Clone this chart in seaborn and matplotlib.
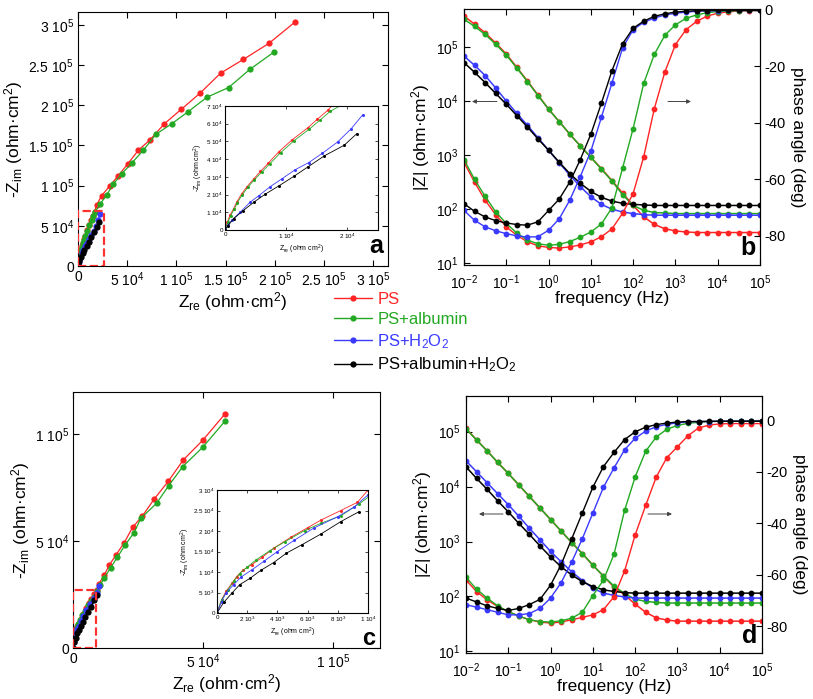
import numpy as np
import pandas as pd
import matplotlib
matplotlib.use("Agg")
import matplotlib.pyplot as plt
import matplotlib.ticker as mticker
from matplotlib.lines import Line2D
from matplotlib.patches import Rectangle
import seaborn as sns

sns.set_theme(style="ticks", rc={"axes.edgecolor": "black", "xtick.color": "black", "ytick.color": "black",
                                 "axes.labelcolor": "black", "text.color": "black"})
plt.rcParams["font.family"] = ["Liberation Sans", "DejaVu Sans"]
plt.rcParams["mathtext.fontset"] = "custom"
plt.rcParams["mathtext.rm"] = "Liberation Sans"
plt.rcParams["mathtext.it"] = "Liberation Sans:italic"
plt.rcParams["mathtext.bf"] = "Liberation Sans:bold"
plt.rcParams["axes.unicode_minus"] = False
plt.rcParams["xtick.direction"] = "in"
plt.rcParams["ytick.direction"] = "in"

# ---------------- data ----------------
samples = ["PS", "PS+albumin", "PS+H2O2", "PS+albumin+H2O2"]
legend_labels = ["PS", "PS+albumin", "PS+H$_2$O$_2$", "PS+albumin+H$_2$O$_2$"]
colors = ["#ff2424", "#22a822", "#3a3aff", "#000000"]

# Panel a: Nyquist (Zre, -Zim) in ohm cm2
a_zre_PS = [0, 0.04e4, 0.08e4, 0.14e4, 0.19e4, 0.27e4, 0.36e4, 0.47e4, 0.58e4, 0.71e4, 0.88e4, 1.10e4, 1.35e4, 1.51e4, 1.68e4,
            1.9e4, 2.4e4, 3.25e4, 4.1e4, 5.05e4, 6.13e4, 7.32e4, 8.78e4, 10.5e4, 12.4e4, 14.5e4, 16.8e4, 19.4e4, 22.1e4]
a_zim_PS = [0, 0.46e4, 0.83e4, 1.2e4, 1.57e4, 2.03e4, 2.45e4, 2.89e4, 3.31e4, 3.78e4, 4.42e4, 5.1e4, 5.76e4, 6.26e4, 6.76e4,
            7.6e4, 8.75e4, 10.0e4, 11.25e4, 12.7e4, 14.4e4, 15.7e4, 17.7e4, 19.5e4, 21.5e4, 24.0e4, 25.7e4, 27.7e4, 30.4e4]
a_zre_alb = [0, 0.05e4, 0.09e4, 0.15e4, 0.2e4, 0.28e4, 0.37e4, 0.48e4, 0.6e4, 0.73e4, 0.91e4, 1.13e4, 1.38e4, 1.55e4,
             1.72e4, 2.24e4, 2.92e4, 3.59e4, 4.44e4, 5.46e4, 6.64e4, 7.93e4, 9.53e4, 11.2e4, 13.1e4, 15.3e4, 17.5e4, 19.9e4]
a_zim_alb = [0, 0.44e4, 0.8e4, 1.17e4, 1.53e4, 1.98e4, 2.4e4, 2.84e4, 3.27e4, 3.73e4, 4.37e4, 5.05e4, 5.7e4, 6.2e4,
             6.7e4, 7.7e4, 8.84e4, 10.2e4, 11.46e4, 12.8e4, 14.4e4, 16.4e4, 17.7e4, 19.2e4, 21.0e4, 22.2e4, 24.5e4, 26.6e4]
a_zre_H2O2 = [0, 0.05e4, 0.11e4, 0.25e4, 0.41e4, 0.55e4, 0.74e4, 0.93e4, 1.15e4, 1.37e4, 1.59e4, 1.84e4, 2.06e4, 2.25e4]
a_zim_H2O2 = [0, 0.27e4, 0.55e4, 1.01e4, 1.57e4, 1.93e4, 2.45e4, 2.89e4, 3.41e4, 3.81e4, 4.33e4, 4.97e4, 5.71e4, 6.5e4]
a_zre_albH2O2 = [0, 0.05e4, 0.14e4, 0.3e4, 0.47e4, 0.66e4, 0.88e4, 1.13e4, 1.35e4, 1.62e4, 1.95e4, 2.15e4]
a_zim_albH2O2 = [0, 0.25e4, 0.64e4, 1.1e4, 1.57e4, 2.03e4, 2.49e4, 3.04e4, 3.55e4, 4.18e4, 4.79e4, 5.43e4]

# Panel c: Nyquist
c_zre_PS = [0, 0.03e4, 0.06e4, 0.1e4, 0.13e4, 0.17e4, 0.23e4, 0.3e4, 0.375e4, 0.49e4, 0.6e4, 0.69e4, 0.82e4, 0.93e4,
            1.0e4, 1.2e4, 1.39e4, 1.65e4, 1.97e4, 2.29e4, 2.67e4, 3.12e4, 3.66e4, 4.24e4, 4.99e4, 5.85e4]
c_zim_PS = [0, 0.32e4, 0.53e4, 0.73e4, 0.89e4, 1.04e4, 1.18e4, 1.36e4, 1.58e4, 1.85e4, 2.08e4, 2.27e4, 2.5e4, 2.7e4,
            3.0e4, 3.4e4, 3.86e4, 4.34e4, 4.92e4, 5.63e4, 6.17e4, 6.95e4, 7.78e4, 8.78e4, 9.7e4, 10.94e4]
c_zre_alb = [0, 0.03e4, 0.07e4, 0.11e4, 0.15e4, 0.2e4, 0.26e4, 0.35e4, 0.45e4, 0.58e4, 0.69e4, 0.82e4, 0.94e4,
             1.05e4, 1.2e4, 1.45e4, 1.71e4, 2.0e4, 2.35e4, 2.61e4, 3.21e4, 3.68e4, 4.22e4, 4.99e4, 5.85e4]
c_zim_alb = [0, 0.32e4, 0.55e4, 0.77e4, 0.96e4, 1.12e4, 1.3e4, 1.52e4, 1.74e4, 2.01e4, 2.19e4, 2.37e4, 2.66e4,
             2.95e4, 3.28e4, 3.75e4, 4.25e4, 4.8e4, 5.39e4, 6.06e4, 6.75e4, 7.58e4, 8.47e4, 9.375e4, 10.6e4]
c_zre_H2O2 = [0, 0.03e4, 0.06e4, 0.11e4, 0.16e4, 0.23e4, 0.31e4, 0.4e4, 0.51e4, 0.64e4, 0.8e4, 0.91e4, 1.0e4]
c_zim_H2O2 = [0, 0.28e4, 0.49e4, 0.69e4, 0.88e4, 1.05e4, 1.26e4, 1.5e4, 1.77e4, 2.07e4, 2.35e4, 2.59e4, 2.88e4]
c_zre_albH2O2 = [0, 0.045e4, 0.1e4, 0.15e4, 0.22e4, 0.29e4, 0.375e4, 0.46e4, 0.56e4, 0.69e4, 0.82e4, 0.94e4]
c_zim_albH2O2 = [0, 0.26e4, 0.49e4, 0.69e4, 0.85e4, 1.04e4, 1.23e4, 1.46e4, 1.66e4, 1.93e4, 2.23e4, 2.47e4]

# Bode data: log10(frequency / Hz)
freq_exp = [-2.0, -1.75, -1.5, -1.25, -1.0, -0.75, -0.5, -0.25, 0.0, 0.25, 0.5, 0.75, 1.0, 1.25, 1.5,
            1.75, 2.0, 2.25, 2.5, 2.75, 3.0, 3.25, 3.5, 3.75, 4.0, 4.25, 4.5, 4.75, 5.0]

# Panel b: log10|Z| and phase (deg)
b_logZ_PS = [5.57, 5.42, 5.26, 5.07, 4.87, 4.62, 4.37, 4.11, 3.85, 3.62, 3.39, 3.17, 2.96, 2.75, 2.53,
             2.30, 2.07, 1.86, 1.72, 1.64, 1.60, 1.58, 1.57, 1.57, 1.57, 1.57, 1.57, 1.57, 1.57]
b_logZ_alb = [5.51, 5.38, 5.23, 5.05, 4.85, 4.61, 4.36, 4.10, 3.85, 3.62, 3.39, 3.17, 2.96, 2.74, 2.52,
              2.27, 2.07, 1.98, 1.94, 1.93, 1.92, 1.92, 1.92, 1.92, 1.92, 1.92, 1.92, 1.92, 1.92]
b_logZ_H2O2 = [4.83, 4.66, 4.47, 4.24, 4.00, 3.77, 3.55, 3.32, 3.09, 2.86, 2.63, 2.42, 2.23, 2.09, 2.00,
               1.95, 1.92, 1.90, 1.89, 1.89, 1.89, 1.89, 1.89, 1.89, 1.89, 1.89, 1.89, 1.89, 1.89]
b_logZ_albH2O2 = [4.71, 4.53, 4.34, 4.14, 3.94, 3.73, 3.52, 3.30, 3.09, 2.87, 2.66, 2.48, 2.33, 2.22, 2.15,
                  2.11, 2.09, 2.08, 2.07, 2.07, 2.07, 2.07, 2.07, 2.07, 2.07, 2.07, 2.07, 2.07, 2.07]
b_ph_PS = [-54, -61, -67.4, -72.5, -76.8, -79.8, -82.1, -83.5, -84.1, -84.3, -83.9, -83.2, -82.1, -80.3, -77.5,
           -72, -65, -52, -35, -22, -12.3, -7, -4.1, -2.2, -1.2, -0.7, -0.4, -0.3, -0.2]
b_ph_alb = [-53, -60, -66, -71.5, -75.6, -79, -81.5, -82.8, -83.3, -83.0, -82, -80.5, -78.6, -75.8, -70,
            -56, -42, -26, -15.8, -9, -5.3, -3, -1.8, -1, -0.6, -0.4, -0.3, -0.2, -0.2]
b_ph_H2O2 = [-71, -74.5, -76.8, -78.2, -79.2, -80, -80.4, -80.3, -78, -74, -67.4, -59, -50, -38, -25.8,
             -13.5, -7, -4.4, -2.9, -1.8, -1.2, -0.8, -0.5, -0.3, -0.3, -0.2, -0.2, -0.2, -0.2]
b_ph_albH2O2 = [-68.6, -71.3, -73.3, -74.6, -75.4, -76.0, -76.2, -75.0, -71, -67, -61, -53, -44, -33, -21.5,
                -12, -6.5, -4, -2.3, -1.4, -0.8, -0.5, -0.3, -0.3, -0.2, -0.2, -0.2, -0.2, -0.2]

# Panel d
d_logZ_PS = [5.06, 4.85, 4.65, 4.44, 4.24, 4.03, 3.82, 3.61, 3.40, 3.19, 2.98, 2.78, 2.57, 2.37, 2.17,
             2.03, 1.86, 1.71, 1.61, 1.57, 1.55, 1.55, 1.55, 1.55, 1.55, 1.55, 1.55, 1.55, 1.55]
d_logZ_alb = [5.05, 4.85, 4.65, 4.44, 4.24, 4.03, 3.82, 3.61, 3.40, 3.19, 2.98, 2.78, 2.57, 2.37, 2.19,
              2.05, 1.95, 1.91, 1.89, 1.88, 1.88, 1.88, 1.88, 1.88, 1.88, 1.88, 1.88, 1.88, 1.88]
d_logZ_H2O2 = [4.47, 4.27, 4.07, 3.87, 3.67, 3.46, 3.24, 3.03, 2.82, 2.63, 2.45, 2.29, 2.15, 2.06, 2.02,
               1.99, 1.97, 1.97, 1.97, 1.97, 1.97, 1.97, 1.97, 1.97, 1.97, 1.97, 1.97, 1.97, 1.97]
d_logZ_albH2O2 = [4.36, 4.15, 3.95, 3.74, 3.54, 3.33, 3.13, 2.92, 2.72, 2.54, 2.39, 2.27, 2.18, 2.12, 2.09,
                  2.07, 2.06, 2.06, 2.06, 2.06, 2.06, 2.06, 2.06, 2.06, 2.06, 2.06, 2.06, 2.06, 2.06]
d_ph_PS = [-62, -66.5, -69.7, -72.3, -74.2, -76, -77.4, -78.3, -78.7, -78.3, -77.4, -76.5, -75.5, -73.5, -68.5,
           -58.5, -44.5, -33, -22, -14.5, -10.3, -6, -3, -1.9, -1.4, -1.3, -1.3, -1.3, -1.3]
d_ph_alb = [-61, -65.5, -69, -72, -74.2, -76, -77.4, -78.1, -78.3, -77.8, -76.8, -74.5, -68, -62, -52,
            -35, -22, -12, -6.5, -3.5, -2, -1.2, -0.8, -0.5, -0.4, -0.3, -0.3, -0.3, -0.3]
d_ph_H2O2 = [-71.6, -72.5, -73.5, -74.5, -75.5, -75.5, -75, -73, -69, -63, -55, -46, -36, -26, -18.5,
             -11.5, -7, -4.2, -2.5, -1.6, -1.0, -0.6, -0.5, -0.5, -0.4, -0.4, -0.4, -0.4, -0.4]
d_ph_albH2O2 = [-69, -70.5, -72, -73, -73.8, -73, -71.5, -69.5, -64, -56, -46, -36, -26, -18, -12.5,
                -7.5, -4.5, -2.7, -1.7, -1.1, -0.7, -0.5, -0.5, -0.4, -0.4, -0.4, -0.4, -0.4, -0.4]

a_ticks = [0, 5e4, 1e5, 1.5e5, 2e5, 2.5e5, 3e5]
a_inset_yticks = [0, 1e4, 2e4, 3e4, 4e4, 5e4, 6e4, 7e4]
a_inset_xticks = [0, 1e4, 2e4]
c_ticks = [0, 5e4, 1e5]
c_inset_yticks = [0, 5e3, 1e4, 1.5e4, 2e4, 2.5e4, 3e4]
c_inset_xticks = [0, 2e3, 4e3, 6e3, 8e3, 1e4]
bode_xticks = [1e-2, 1e-1, 1e0, 1e1, 1e2, 1e3, 1e4, 1e5]
bode_yticks = [1e1, 1e2, 1e3, 1e4, 1e5]
phase_ticks = [0, -20, -40, -60, -80]

palette = dict(zip(samples, colors))

# ---------------- helpers ----------------
def nyq_df(xs, ys):
    frames = []
    for s, x, y in zip(samples, xs, ys):
        frames.append(pd.DataFrame({"zre": x, "zim": y, "sample": s}))
    return pd.concat(frames, ignore_index=True)


def bode_df(logz, ph):
    frames = []
    for s, lz, p in zip(samples, logz, ph):
        frames.append(pd.DataFrame({"f": np.power(10.0, freq_exp), "Z": np.power(10.0, lz),
                                    "phase": p, "sample": s}))
    return pd.concat(frames, ignore_index=True)


def sci_fmt(v, pos=None):
    if v == 0:
        return "0"
    e = int(np.floor(np.log10(abs(v)) + 1e-9))
    m = v / 10 ** e
    ms = ("%.1f" % m).rstrip("0").rstrip(".")
    return ms + " $10^{%d}$" % e


def nyq_plot(ax, df, ms, lw):
    sns.lineplot(data=df, x="zre", y="zim", hue="sample", hue_order=samples, palette=palette,
                 marker="o", markersize=ms, markeredgewidth=0, linewidth=lw, sort=False,
                 estimator=None, legend=False, ax=ax)
    ax.set_xlabel("")
    ax.set_ylabel("")


def style_box(ax, lw=0.8):
    for sp in ax.spines.values():
        sp.set_visible(True)
        sp.set_linewidth(lw)
        sp.set_color("black")


W, H = 813, 699
fig = plt.figure(figsize=(W / 100, H / 100), dpi=100)


def rect(l, t, r, b):
    return [l / W, 1 - b / H, (r - l) / W, (b - t) / H]


# ---------------- panel a ----------------
dfa = nyq_df([a_zre_PS, a_zre_alb, a_zre_H2O2, a_zre_albH2O2],
             [a_zim_PS, a_zim_alb, a_zim_H2O2, a_zim_albH2O2])
axa = fig.add_axes(rect(78, 12, 388, 266))
nyq_plot(axa, dfa, 4.5, 0.9)
axa.set_xlim(0, 3.15e5)
axa.set_ylim(0, 3.16e5)
axa.set_xticks(a_ticks)
axa.set_yticks(a_ticks)
axa.xaxis.set_major_formatter(mticker.FuncFormatter(sci_fmt))
axa.yaxis.set_major_formatter(mticker.FuncFormatter(sci_fmt))
axa.tick_params(top=True, right=True, labelsize=10, length=4, width=0.8, pad=3)
style_box(axa)
axa.set_xlabel("Z$_{\\rm re}$ (ohm·cm$^2$)", fontsize=12.5, labelpad=1)
axa.set_ylabel("-Z$_{\\rm im}$ (ohm·cm$^2$)", fontsize=12.5, labelpad=2)
axa.add_patch(Rectangle((0, 0), 2.6e4, 6.9e4, fill=False, ls="--", ec="#ff3030", lw=1.6, zorder=5))
axa.text(0.985, 0.03, "a", transform=axa.transAxes, ha="right", va="bottom",
         fontsize=18, fontweight="bold")

axai = fig.add_axes(rect(225, 106, 378, 230))
axai.set_facecolor("white")
nyq_plot(axai, dfa, 2.2, 0.6)
axai.set_xlim(0, 2.5e4)
axai.set_ylim(0, 7e4)
axai.set_xticks(a_inset_xticks)
axai.set_yticks(a_inset_yticks)
axai.xaxis.set_major_formatter(mticker.FuncFormatter(sci_fmt))
axai.yaxis.set_major_formatter(mticker.FuncFormatter(sci_fmt))
axai.tick_params(top=True, right=True, labelsize=4.5, length=2, width=0.5, pad=1.5)
style_box(axai, 0.8)
axai.set_xlabel("Z$_{\\rm re}$ (ohm cm$^2$)", fontsize=5, labelpad=1)
axai.set_ylabel("-Z$_{\\rm im}$ (ohm cm$^2$)", fontsize=5, labelpad=1)

# ---------------- panel c ----------------
dfc = nyq_df([c_zre_PS, c_zre_alb, c_zre_H2O2, c_zre_albH2O2],
             [c_zim_PS, c_zim_alb, c_zim_H2O2, c_zim_albH2O2])
axc = fig.add_axes(rect(73, 392, 380, 648))
nyq_plot(axc, dfc, 4.5, 0.9)
axc.set_xlim(0, 1.18e5)
axc.set_ylim(0, 1.195e5)
axc.set_xticks(c_ticks)
axc.set_yticks(c_ticks)
axc.xaxis.set_major_formatter(mticker.FuncFormatter(sci_fmt))
axc.yaxis.set_major_formatter(mticker.FuncFormatter(sci_fmt))
axc.tick_params(top=True, right=True, labelsize=10, length=4, width=0.8, pad=3)
style_box(axc)
axc.set_xlabel("Z$_{\\rm re}$ (ohm·cm$^2$)", fontsize=12.5, labelpad=1)
axc.set_ylabel("-Z$_{\\rm im}$ (ohm·cm$^2$)", fontsize=12.5, labelpad=2)
axc.add_patch(Rectangle((0, 0), 0.9e4, 2.7e4, fill=False, ls="--", ec="#ff3030", lw=1.6, zorder=5))
axc.text(0.985, 0.012, "c", transform=axc.transAxes, ha="right", va="baseline",
         fontsize=17, fontweight="bold")

axci = fig.add_axes(rect(217, 490, 368, 613))
axci.set_facecolor("white")
nyq_plot(axci, dfc, 2.2, 0.6)
axci.set_xlim(0, 1e4)
axci.set_ylim(0, 3e4)
axci.set_xticks(c_inset_xticks)
axci.set_yticks(c_inset_yticks)
axci.xaxis.set_major_formatter(mticker.FuncFormatter(sci_fmt))
axci.yaxis.set_major_formatter(mticker.FuncFormatter(sci_fmt))
axci.tick_params(top=True, right=True, labelsize=4.5, length=2, width=0.5, pad=1.5)
style_box(axci, 0.8)
axci.set_xlabel("Z$_{\\rm re}$ (ohm cm$^2$)", fontsize=5, labelpad=1)
axci.set_ylabel("-Z$_{\\rm im}$ (ohm cm$^2$)", fontsize=5, labelpad=1)


# ---------------- Bode panels ----------------
def bode_panel(r, df, ylim_l, ylim_r, letter, arrow_y, arrows_x):
    ax = fig.add_axes(rect(*r))
    ax2 = ax.twinx()
    sns.lineplot(data=df, x="f", y="Z", hue="sample", hue_order=samples, palette=palette,
                 marker="o", markersize=4.2, markeredgewidth=0, linewidth=1.1, sort=False,
                 estimator=None, legend=False, ax=ax)
    sns.lineplot(data=df, x="f", y="phase", hue="sample", hue_order=samples, palette=palette,
                 marker="o", markersize=4.2, markeredgewidth=0, linewidth=1.0, sort=False,
                 estimator=None, legend=False, ax=ax2)
    ax.set_xscale("log")
    ax.set_yscale("log")
    ax.set_xlim(1e-2, 1e5)
    ax.set_ylim(*ylim_l)
    ax2.set_ylim(*ylim_r)
    ax.xaxis.set_major_locator(mticker.FixedLocator(bode_xticks))
    ax.xaxis.set_minor_locator(mticker.NullLocator())
    ax.yaxis.set_major_locator(mticker.FixedLocator(bode_yticks))
    ax.yaxis.set_minor_locator(mticker.NullLocator())
    ax2.yaxis.set_major_locator(mticker.FixedLocator(phase_ticks))
    ax.tick_params(axis="x", top=True, labelsize=10, length=4, width=0.8, pad=6)
    ax.tick_params(axis="y", right=False, labelsize=10, length=4, width=0.8, pad=4)
    ax2.tick_params(axis="y", right=True, labelsize=10.5, length=4, width=0.8, pad=3)
    style_box(ax)
    style_box(ax2)
    ax.set_xlabel("frequency (Hz)", fontsize=12.5, labelpad=-1)
    ax.set_ylabel("|Z| (ohm·cm$^2$)", fontsize=12.5, labelpad=3)
    ax2.set_ylabel("phase angle (deg)", fontsize=12.5, rotation=270, labelpad=14)
    ax.text(0.985, 0.02, letter, transform=ax.transAxes, ha="right", va="bottom",
            fontsize=18, fontweight="bold", zorder=10)
    (lx0, lx1), (rx0, rx1) = arrows_x
    for x0, x1 in [(lx0, lx1), (rx0, rx1)]:
        ax.annotate("", xy=(x1 / W, 1 - arrow_y / H), xytext=(x0 / W, 1 - arrow_y / H),
                    xycoords="figure fraction", textcoords="figure fraction",
                    arrowprops=dict(arrowstyle="-|>", color="#444444", lw=0.7,
                                    mutation_scale=6, shrinkA=0, shrinkB=0))
    return ax, ax2


dfb = bode_df([b_logZ_PS, b_logZ_alb, b_logZ_H2O2, b_logZ_albH2O2],
              [b_ph_PS, b_ph_alb, b_ph_H2O2, b_ph_albH2O2])
bode_panel((464, 9, 760, 265), dfb, (10 ** 0.97, 10 ** 5.70), (-90.3, 0.3), "b",
           101.5, ((497, 472), (668, 691)))

dfd = bode_df([d_logZ_PS, d_logZ_alb, d_logZ_H2O2, d_logZ_albH2O2],
              [d_ph_PS, d_ph_alb, d_ph_H2O2, d_ph_albH2O2])
bode_panel((466, 396, 762, 653), dfd, (10 ** 0.97, 10 ** 5.65), (-90.3, 9.4), "d",
           514, ((503, 479), (648, 672)))

# ---------------- legend ----------------
handles = [Line2D([], [], color=c, marker="o", markersize=4.5, markeredgewidth=0, lw=1.0) for c in colors]
fig.legend(handles, legend_labels, loc="upper left", bbox_to_anchor=(334 / W, 1 - 292 / H),
           frameon=False, fontsize=12, handlelength=2.3, handletextpad=0.3, labelspacing=0.3,
           borderpad=0, borderaxespad=0, labelcolor=colors)

fig.savefig("out.png", dpi=100)
